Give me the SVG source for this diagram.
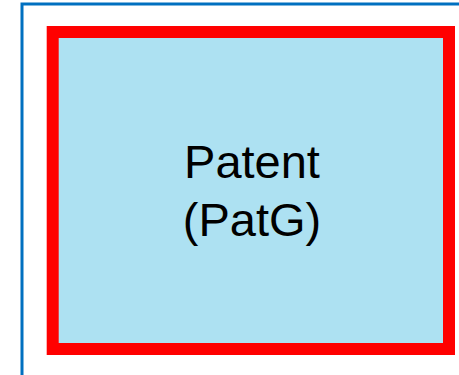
<svg xmlns="http://www.w3.org/2000/svg" width="459" height="375" viewBox="0 0 459 375">
<style>
.lbl{font-family:"Liberation Sans",Arial,sans-serif;font-size:47px;fill:#000;text-anchor:middle}
</style>
<rect width="459" height="375" fill="#fff"/>
<rect x="22" y="4" width="460" height="400" fill="none" stroke="#0070C0" stroke-width="3"/>
<g id="patent">
<rect x="52.7" y="32" width="396.3" height="317" fill="#ADE1F2" stroke="#FF0000" stroke-width="12"/>
<text class="lbl" x="252" y="178">Patent</text>
<text class="lbl" x="252" y="236">(PatG)</text>
</g>
</svg>
